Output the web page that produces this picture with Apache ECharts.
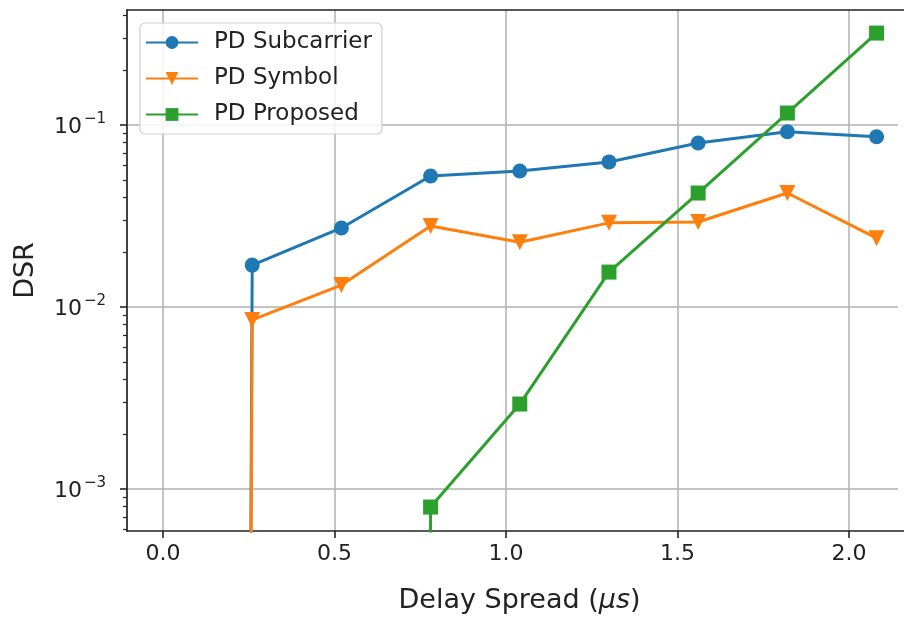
<!DOCTYPE html>
<html>
<head>
<meta charset="utf-8">
<script src="https://cdn.jsdelivr.net/npm/echarts@6/dist/echarts.min.js"></script>
<style>html,body{margin:0;padding:0;background:#fff;overflow:hidden}#c{width:904px;height:619px}</style>
</head>
<body>
<div id="c"></div>
<script>
// Data (zeros in the original are shown as a tiny value, since log axes cannot hold 0)
var ZERO = 1e-100;
var xValues = [0.0, 0.26, 0.52, 0.78, 1.04, 1.30, 1.56, 1.82, 2.08];
var pdSubcarrier = [ZERO, 0.0170, 0.0272, 0.0525, 0.0559, 0.0627, 0.0796, 0.0919, 0.0862];
var pdSymbol = [ZERO, 0.00849, 0.0132, 0.0279, 0.0227, 0.0290, 0.0293, 0.0423, 0.0239];
var pdProposed = [ZERO, ZERO, ZERO, 0.000796, 0.00293, 0.01556, 0.0423, 0.1164, 0.320];
var seriesNames = ['PD Subcarrier', 'PD Symbol', 'PD Proposed'];
var xTicks = [0, 0.5, 1.0, 1.5, 2.0];
var xTickLabels = ['0.0', '0.5', '1.0', '1.5', '2.0'];
var yTicks = [0.001, 0.01, 0.1];
var yTickExponents = ['\u22123', '\u22122', '\u22121'];
var yMinorTicks = [];
[-4, -3, -2, -1].forEach(function (e) {
  for (var m = 2; m <= 9; m++) yMinorTicks.push(m * Math.pow(10, e));
});

function pairs(ys) { return xValues.map(function (x, i) { return [x, ys[i]]; }); }

var FONT = 'DejaVu Sans';
var colors = ['#1f77b4', '#ff7f0e', '#2ca02c'];
var SPINE = { color: '#222', width: 1.7 };
var chart = echarts.init(document.getElementById('c'), null, { renderer: 'canvas' });

var X_MIN = -0.105, X_MAX = 2.16, Y_MIN = 5.88e-4, Y_MAX = 0.4285;

var option = {
  animation: false,
  backgroundColor: '#fff',
  grid: { left: 127, top: 10, width: 777, height: 521, show: false, containLabel: false, outerBoundsMode: 'none' },
  graphic: [{
    type: 'rect', right: 0, top: 12, z: 100, silent: true,
    shape: { width: 6, height: 518 }, style: { fill: '#fff' }
  }],
  legend: {
    orient: 'vertical', left: 140, top: 23,
    itemWidth: 52, itemHeight: 16, itemGap: 13,
    padding: [8, 10, 8, 5],
    backgroundColor: 'rgba(255,255,255,0.85)', borderColor: '#d0d0d0', borderWidth: 1.2, borderRadius: 5,
    textStyle: { fontFamily: FONT, fontSize: 23, color: '#222', padding: [0, 0, 0, 11] },
    data: seriesNames
  },
  xAxis: [{
    type: 'value', min: X_MIN, max: X_MAX, position: 'bottom',
    name: 'Delay Spread ({it|\u03bcs})', nameLocation: 'middle', nameGap: 56,
    nameTextStyle: { fontFamily: FONT, fontSize: 27, color: '#222', padding: [0, 0, 0, 8],
      rich: { it: { fontFamily: FONT, fontStyle: 'italic', fontSize: 27, color: '#222' } } },
    axisLine: { show: true, onZero: false, lineStyle: SPINE },
    axisTick: { show: true, customValues: xTicks, length: 7, lineStyle: { color: '#222', width: 1.6 } },
    axisLabel: { customValues: xTicks, fontFamily: FONT, fontSize: 22, color: '#222', margin: 12,
      formatter: function (v) { var i = xTicks.indexOf(v); return i >= 0 ? xTickLabels[i] : ''; } },
    splitLine: { show: true, lineStyle: { color: '#b0b0b0', width: 1.5 } }
  }, {
    type: 'value', min: X_MIN, max: X_MAX, position: 'top',
    axisLine: { show: true, onZero: false, lineStyle: SPINE },
    axisTick: { show: false }, axisLabel: { show: false }, splitLine: { show: false }
  }],
  yAxis: [{
    type: 'log', logBase: 10, min: Y_MIN, max: Y_MAX, position: 'left',
    name: 'DSR', nameLocation: 'middle', nameGap: 88,
    nameTextStyle: { fontFamily: FONT, fontSize: 27, color: '#222' },
    axisLine: { show: true, onZero: false, lineStyle: SPINE },
    axisTick: { show: true, customValues: yTicks, length: 7, lineStyle: { color: '#222', width: 1.6 } },
    axisLabel: { customValues: yTicks, fontFamily: FONT, fontSize: 22, color: '#222', margin: 21,
      formatter: function (v) {
        for (var i = 0; i < yTicks.length; i++) if (Math.abs(v / yTicks[i] - 1) < 1e-6) return '{b|10}{s|' + yTickExponents[i] + '}';
        return '';
      },
      rich: {
        b: { fontFamily: FONT, fontSize: 22, color: '#222', verticalAlign: 'bottom', lineHeight: 26 },
        s: { fontFamily: FONT, fontSize: 15, color: '#222', verticalAlign: 'top', lineHeight: 26, padding: [0, 0, 8, 2] }
      }
    },
    splitLine: { show: true, lineStyle: { color: '#b0b0b0', width: 1.5 } }
  }, {
    type: 'log', logBase: 10, min: Y_MIN, max: Y_MAX, position: 'left', offset: 0,
    axisLine: { show: false, onZero: false },
    axisTick: { show: true, customValues: yMinorTicks, length: 4, lineStyle: { color: '#222', width: 1.2 } },
    axisLabel: { show: false },
    splitLine: { show: false }
  }],
  series: [
    { name: seriesNames[0], type: 'line', data: pairs(pdSubcarrier), symbol: 'circle', symbolSize: 15,
      lineStyle: { color: colors[0], width: 3 }, itemStyle: { color: colors[0] }, z: 3 },
    { name: seriesNames[1], type: 'line', data: pairs(pdSymbol), symbol: 'triangle', symbolRotate: 180, symbolSize: 16,
      lineStyle: { color: colors[1], width: 3 }, itemStyle: { color: colors[1] }, z: 4 },
    { name: seriesNames[2], type: 'line', data: pairs(pdProposed), symbol: 'rect', symbolSize: 15,
      lineStyle: { color: colors[2], width: 3 }, itemStyle: { color: colors[2] }, z: 5 }
  ]
};
chart.setOption(option);
</script>
</body>
</html>
